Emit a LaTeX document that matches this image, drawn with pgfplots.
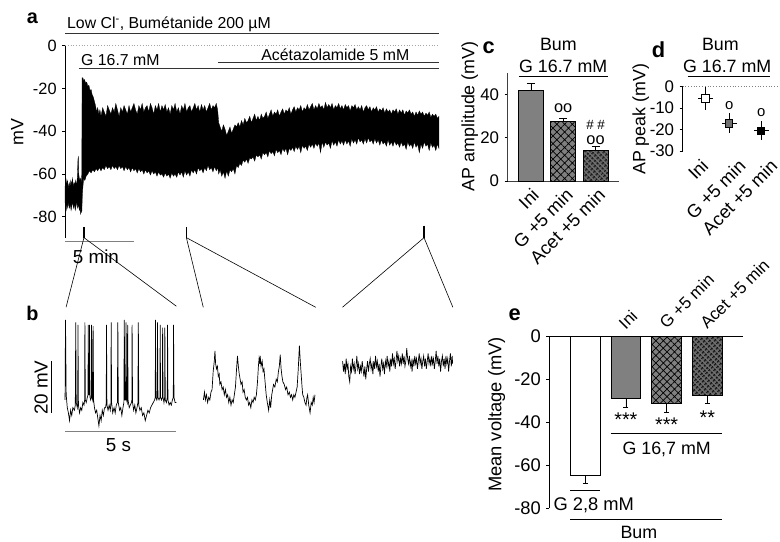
\documentclass[border=0pt]{standalone}
\usepackage{pgfplots}
\pgfplotsset{compat=1.18}
\usepackage{fontspec}
\setmainfont{Liberation Sans}
\usetikzlibrary{patterns.meta}
\definecolor{barg}{HTML}{808080}
\definecolor{mkg}{HTML}{707070}
\newcommand{\fs}[1]{\fontsize{#1}{#1}\selectfont}
\begin{document}
\fs{16}
\begin{tikzpicture}[x=1bp,y=1bp]
\useasboundingbox (0bp,0bp) rectangle (780bp,545bp);
% ---------------- panel a ----------------
\begin{axis}[at={(61bp,305.5bp)}, anchor=south west, scale only axis,
  width=376bp, height=193.5bp, xmin=0, xmax=27.25, ymin=-90, ymax=0,
  axis x line=none, axis y line*=left, axis line style={-, line width=0.8bp},
  ytick={-80,-60,-40,-20,0}, yticklabels={-80,-60,-40,-20,0},
  tick align=outside, major tick length=3bp, tick style={line width=0.8bp, black},
  tick label style={font=\fs{16.5}}, clip=false]
\addplot[fill=black, draw=black, line width=0.3bp] coordinates {
(0,-66) (0.06,-62) (0.12,-65) (0.18,-63) (0.24,-67) (0.3,-64) (0.36,-66) (0.42,-63) (0.48,-65) (0.54,-62) (0.6,-66) (0.66,-64) (0.72,-65) (0.78,-63) (0.84,-66) (0.9,-61) (0.94,-53) (0.97,-52) (1.0,-60) (1.06,-63) (1.12,-62) (1.18,-64) (1.22,-60) (1.24,-15)
(1.3,-15) (1.36,-16.5) (1.42,-15.8) (1.5,-17.5) (1.58,-17) (1.66,-19) (1.74,-18.5) (1.82,-21) (1.9,-20.5) (1.98,-23) (2.06,-24) (2.14,-26) (2.22,-28) (2.3,-31) (2.38,-29) (2.46,-32) (2.54,-30)
(2.62,-33) (2.74,-29) (2.86,-31) (2.98,-33) (3.1,-28) (3.22,-30) (3.34,-32) (3.46,-29) (3.58,-31) (3.7,-27) (3.82,-30) (3.94,-33) (4.06,-29) (4.18,-31) (4.3,-28) (4.42,-30) (4.54,-32) (4.66,-28) (4.78,-31) (4.9,-29) (5.02,-27) (5.14,-30) (5.26,-32) (5.38,-28) (5.5,-30) (5.62,-27) (5.74,-31) (5.86,-29) (5.98,-28) (6.1,-31) (6.22,-27) (6.34,-29) (6.46,-32) (6.58,-28) (6.7,-30) (6.82,-27) (6.94,-31) (7.06,-28) (7.18,-30) (7.3,-27.5) (7.42,-31) (7.54,-29) (7.66,-32) (7.78,-28) (7.9,-30) (8.02,-27) (8.14,-31) (8.26,-29) (8.38,-32) (8.5,-28) (8.62,-30) (8.74,-27) (8.86,-31) (8.98,-29) (9.1,-28) (9.22,-31) (9.34,-29) (9.46,-27) (9.58,-30) (9.7,-28) (9.82,-31) (9.94,-27.5) (10.06,-30) (10.18,-28) (10.3,-31) (10.42,-29) (10.54,-27) (10.66,-30) (10.78,-28) (10.9,-29) (11.02,-27) (11.12,-30) (11.2,-36)
(11.3,-38) (11.42,-40) (11.54,-37) (11.66,-39) (11.78,-42) (11.9,-40) (12.02,-38) (12.14,-41) (12.26,-39) (12.38,-37) (12.5,-38) (12.62,-36) (12.74,-38) (12.86,-35) (12.98,-37) (13.1,-34) (13.22,-36) (13.34,-35) (13.46,-33) (13.58,-36) (13.7,-34) (13.82,-32) (13.94,-35) (14.06,-33) (14.18,-35) (14.3,-32) (14.42,-34) (14.54,-33) (14.66,-31) (14.78,-34) (14.9,-32) (15.02,-30) (15.14,-33) (15.26,-31) (15.38,-32) (15.5,-30) (15.62,-33) (15.74,-31) (15.86,-29.5) (15.98,-32) (16.1,-30) (16.22,-31) (16.34,-29) (16.46,-32) (16.58,-30) (16.7,-28.5) (16.82,-31) (16.94,-29) (17.06,-30) (17.18,-28) (17.3,-31) (17.42,-29) (17.54,-30) (17.66,-27.5) (17.78,-30) (17.9,-28.5) (18.02,-27) (18.14,-30) (18.26,-28) (18.38,-29.5) (18.5,-27) (18.62,-29) (18.74,-28) (18.86,-30) (18.98,-26.5) (19.1,-29) (19.22,-27.5) (19.34,-29) (19.46,-27) (19.58,-30) (19.7,-28) (19.82,-29) (19.94,-27) (20.06,-29.5) (20.18,-28) (20.3,-30) (20.42,-27.5) (20.54,-29) (20.66,-28) (20.78,-30.5) (20.9,-28) (21.02,-29) (21.14,-27.5) (21.26,-30) (21.38,-28.5) (21.5,-30) (21.62,-28) (21.74,-31) (21.86,-29) (21.98,-28) (22.1,-30) (22.22,-28.5) (22.34,-31) (22.46,-29) (22.58,-30) (22.7,-28.5) (22.82,-31) (22.94,-29.5) (23.06,-30.5) (23.18,-29) (23.3,-31.5) (23.42,-29.5) (23.54,-31) (23.66,-30) (23.78,-32) (23.9,-30) (24.02,-31) (24.14,-29.5) (24.26,-32) (24.38,-30) (24.5,-31.5) (24.62,-30) (24.74,-32.5) (24.86,-30.5) (24.98,-31.5) (25.1,-30) (25.22,-32) (25.34,-31) (25.46,-33) (25.58,-31) (25.7,-32.5) (25.82,-30.5) (25.94,-32) (26.06,-31) (26.18,-33) (26.3,-31.5) (26.42,-32.5) (26.54,-31) (26.66,-33.5) (26.78,-32) (26.9,-33) (27.02,-32) (27.14,-34) (27.25,-33)
(27.25,-48) (27.14,-46) (27.02,-49) (26.9,-46.5) (26.78,-47.5) (26.66,-45.5) (26.54,-49) (26.42,-46) (26.3,-47) (26.18,-45) (26.06,-48) (25.94,-46) (25.82,-50) (25.7,-46) (25.58,-47.5) (25.46,-45) (25.34,-48) (25.22,-46) (25.1,-47) (24.98,-45) (24.86,-48.5) (24.74,-46) (24.62,-47) (24.5,-45) (24.38,-47.5) (24.26,-45.5) (24.14,-46.5) (24.02,-44.5) (23.9,-47) (23.78,-45) (23.66,-46.5) (23.54,-44) (23.42,-47) (23.3,-45) (23.18,-46) (23.06,-44) (22.94,-46.5) (22.82,-44) (22.7,-45.5) (22.58,-43.5) (22.46,-46) (22.34,-44) (22.22,-45) (22.1,-43) (21.98,-45.5) (21.86,-43.5) (21.74,-46) (21.62,-44) (21.5,-45) (21.38,-43) (21.26,-46) (21.14,-44) (21.02,-45.5) (20.9,-43.5) (20.78,-47) (20.66,-44.5) (20.54,-46) (20.42,-44) (20.3,-46.5) (20.18,-44.5) (20.06,-46) (19.94,-44) (19.82,-47) (19.7,-45) (19.58,-46.5) (19.46,-44.5) (19.34,-48) (19.22,-45.5) (19.1,-46.5) (18.98,-45) (18.86,-47.5) (18.74,-45) (18.62,-50) (18.5,-45.5) (18.38,-47) (18.26,-45.5) (18.14,-48) (18.02,-46) (17.9,-47.5) (17.78,-46) (17.66,-49) (17.54,-47) (17.42,-48) (17.3,-46.5) (17.18,-50) (17.06,-47) (16.94,-48.5) (16.82,-47) (16.7,-49.5) (16.58,-47.5) (16.46,-49) (16.34,-48) (16.22,-51) (16.1,-48) (15.98,-49.5) (15.86,-48) (15.74,-51) (15.62,-49) (15.5,-50) (15.38,-48.5) (15.26,-51.5) (15.14,-49.5) (15.02,-50.5) (14.9,-49) (14.78,-52) (14.66,-50) (14.54,-51) (14.42,-50) (14.3,-53) (14.18,-51) (14.06,-52) (13.94,-51) (13.82,-54) (13.7,-52) (13.58,-53) (13.46,-52.5) (13.34,-55) (13.22,-53) (13.1,-54.5) (12.98,-53.5) (12.86,-56) (12.74,-55) (12.62,-57) (12.5,-56) (12.38,-60) (12.26,-57.5) (12.14,-59) (12.02,-58) (11.9,-61) (11.78,-58.5) (11.66,-62) (11.54,-59) (11.42,-61) (11.3,-58) (11.2,-60) (11.12,-57) (11.02,-58.5) (10.9,-56.5) (10.78,-59) (10.66,-57) (10.54,-58) (10.42,-56) (10.3,-58.5) (10.18,-57) (10.06,-59.5) (9.94,-57.5) (9.82,-58.5) (9.7,-57) (9.58,-60) (9.46,-58) (9.34,-59.5) (9.22,-58) (9.1,-61) (8.98,-59) (8.86,-60.5) (8.74,-58.5) (8.62,-61.5) (8.5,-59) (8.38,-60.5) (8.26,-59) (8.14,-61.5) (8.02,-60) (7.9,-61) (7.78,-59.5) (7.66,-62) (7.54,-60) (7.42,-61) (7.3,-59.5) (7.18,-61.5) (7.06,-60) (6.94,-60.5) (6.82,-59) (6.7,-61) (6.58,-59) (6.46,-60) (6.34,-58.5) (6.22,-60.5) (6.1,-58.5) (5.98,-59.5) (5.86,-58) (5.74,-60) (5.62,-58) (5.5,-59) (5.38,-57.5) (5.26,-59.5) (5.14,-57.5) (5.02,-58.5) (4.9,-57) (4.78,-59) (4.66,-57) (4.54,-58) (4.42,-56.5) (4.3,-58.5) (4.18,-56.5) (4.06,-57.5) (3.94,-56) (3.82,-58) (3.7,-56.5) (3.58,-57.5) (3.46,-56) (3.34,-58) (3.22,-56.5) (3.1,-57.5) (2.98,-56) (2.86,-58) (2.74,-57) (2.62,-58.5) (2.5,-57) (2.38,-58.5) (2.26,-57.5) (2.14,-59) (2.02,-58) (1.9,-59.5) (1.78,-58.5) (1.66,-60) (1.54,-61) (1.44,-63) (1.36,-62) (1.3,-66) (1.26,-70) (1.22,-78) (1.18,-76) (1.14,-79) (1.1,-76) (1.04,-77) (0.98,-74) (0.92,-76) (0.86,-73) (0.8,-75) (0.74,-77) (0.68,-74) (0.62,-76) (0.56,-73) (0.5,-75) (0.44,-77) (0.38,-74) (0.32,-76) (0.26,-73) (0.2,-76) (0.14,-74) (0.08,-77) (0.02,-75) (0,-73)
} -- cycle;
\draw[gray!70, dotted, line width=0.8bp] (axis cs:0,0) -- (axis cs:27.25,0);
\draw[black!80, line width=0.8bp] (axis cs:0,5.6) -- (axis cs:27.25,5.6);
\node[anchor=west, inner sep=0] at (axis cs:0.14,9.8) {Low Cl\textsuperscript{-}, Bumétanide 200 µM};
\draw[black!80, line width=0.8bp] (axis cs:1.01,-10.7) -- (axis cs:27.25,-10.7);
\node[anchor=west, inner sep=0] at (axis cs:1.16,-6.7) {G 16.7 mM};
\draw[black!80, line width=0.8bp] (axis cs:11.16,-7.9) -- (axis cs:27.25,-7.9);
\node[inner sep=0] at (axis cs:19.7,-4.3) {Acétazolamide 5 mM};
\node[rotate=90, font=\fs{18}] at (axis cs:-3.48,-40.5) {mV};
\node[font=\bfseries\fs{20}] at (axis cs:-2.39,13) {a};
\draw[gray, line width=0.8bp] (axis cs:0,-91.6) -- (axis cs:5,-91.6);
\node[font=\fs{19}] at (axis cs:2.25,-98.5) {5 min};
\draw[line width=1.6bp] (axis cs:1.38,-84.7) -- (axis cs:1.38,-89.8);
\draw[line width=1.6bp] (axis cs:8.84,-84.7) -- (axis cs:8.84,-89.8);
\draw[line width=1.6bp] (axis cs:26.16,-84.2) -- (axis cs:26.16,-89.8);
\end{axis}
% ---------------- panel b ----------------
\begin{axis}[at={(61bp,96bp)}, anchor=south west, scale only axis,
  width=392bp, height=143bp, xmin=0, xmax=17.5, ymin=-75, ymax=-20,
  hide axis, clip=false]
\addplot[black, line width=0.7bp] coordinates {
(0,-57) (0.02,-26) (0.05,-55) (0.1,-60) (0.15,-62) (0.2,-65) (0.25,-61) (0.3,-63) (0.35,-60) (0.42,-61) (0.46,-59) (0.48,-27) (0.5,-58) (0.55,-60) (0.57,-58) (0.58,-28) (0.6,-59) (0.65,-62) (0.7,-60) (0.75,-61) (0.8,-58) (0.85,-59) (0.88,-57) (0.89,-27) (0.91,-57) (0.95,-58) (1.0,-56) (1.03,-55) (1.04,-28) (1.06,-55) (1.09,-55) (1.10,-28) (1.12,-56) (1.15,-57) (1.18,-56) (1.19,-28) (1.21,-56) (1.24,-57) (1.26,-28.5) (1.28,-57) (1.32,-60) (1.37,-62) (1.42,-61) (1.47,-64) (1.52,-67) (1.57,-63) (1.62,-65) (1.67,-61) (1.72,-63) (1.77,-60) (1.82,-60) (1.85,-58) (1.86,-28) (1.88,-59) (1.93,-61) (1.98,-59) (2.03,-61) (2.06,-58) (2.07,-27) (2.09,-58) (2.14,-62) (2.2,-60) (2.25,-62) (2.3,-59) (2.35,-58) (2.37,-27) (2.39,-58) (2.45,-61) (2.5,-60) (2.55,-63) (2.6,-60) (2.64,-58) (2.66,-26) (2.68,-57) (2.72,-57) (2.74,-27) (2.76,-57) (2.79,-58) (2.81,-28) (2.83,-57) (2.88,-60) (2.93,-59) (2.98,-58) (3.0,-57) (3.01,-28) (3.03,-58) (3.08,-61) (3.13,-59) (3.18,-62) (3.23,-60) (3.27,-58) (3.29,-27) (3.31,-59) (3.36,-61) (3.42,-60) (3.48,-63) (3.54,-62) (3.6,-65) (3.66,-63) (3.72,-61) (3.78,-62) (3.84,-60) (3.9,-59) (3.96,-58) (4.02,-57) (4.05,-56) (4.06,-26) (4.08,-56) (4.12,-57) (4.14,-56) (4.15,-27) (4.17,-56) (4.22,-57) (4.26,-56) (4.27,-28) (4.29,-56) (4.33,-57) (4.37,-56) (4.38,-29) (4.40,-56) (4.44,-58) (4.47,-56) (4.48,-29) (4.50,-57) (4.55,-58) (4.59,-56) (4.60,-28) (4.62,-57) (4.67,-59) (4.72,-58) (4.77,-59) (4.82,-57) (4.86,-56) (4.87,-28) (4.89,-56) (4.94,-58) (5.0,-58)
};
\addplot[black, line width=0.7bp] coordinates {
(6.21,-57) (6.26,-54) (6.30,-57) (6.35,-55) (6.40,-58) (6.45,-56) (6.50,-57) (6.55,-54) (6.60,-53) (6.65,-46) (6.70,-42) (6.73,-38) (6.76,-43) (6.80,-45) (6.84,-44) (6.88,-48) (6.92,-47) (6.95,-51) (7.00,-50) (7.05,-53) (7.10,-52) (7.15,-55) (7.20,-53) (7.25,-56) (7.30,-55) (7.35,-58) (7.40,-56) (7.45,-59) (7.50,-57) (7.55,-58) (7.60,-55) (7.65,-52) (7.70,-45) (7.74,-40) (7.78,-44) (7.82,-47) (7.86,-49) (7.90,-51) (7.95,-50) (7.99,-54) (8.04,-53) (8.09,-56) (8.14,-57) (8.19,-56) (8.24,-59) (8.29,-58) (8.34,-60) (8.39,-57) (8.44,-58) (8.49,-56) (8.54,-57) (8.59,-55) (8.64,-50) (8.68,-44) (8.71,-41) (8.74,-43) (8.76,-40) (8.80,-44) (8.85,-42) (8.89,-46) (8.93,-45) (8.98,-50) (9.03,-55) (9.08,-58) (9.14,-61) (9.19,-57) (9.23,-60) (9.28,-55) (9.32,-53) (9.36,-51) (9.42,-52) (9.48,-49) (9.53,-50) (9.58,-46) (9.62,-44) (9.66,-39.5) (9.70,-45) (9.74,-48) (9.78,-50) (9.84,-51) (9.90,-53) (9.95,-52) (10.01,-55) (10.07,-54) (10.12,-56) (10.17,-55) (10.22,-57) (10.27,-55) (10.32,-56) (10.37,-54) (10.42,-52) (10.47,-45) (10.52,-36) (10.56,-42) (10.60,-47) (10.64,-52) (10.67,-55) (10.72,-56) (10.77,-58) (10.82,-59) (10.86,-56) (10.89,-55) (10.94,-59) (11.00,-62) (11.05,-58) (11.10,-59) (11.14,-56) (11.18,-58) (11.22,-55)
};
\addplot[black, line width=0.7bp] coordinates {
(12.46,-42) (12.50,-46) (12.54,-43) (12.58,-47) (12.62,-41) (12.66,-45) (12.70,-43) (12.74,-48) (12.78,-50) (12.82,-44) (12.86,-46) (12.90,-41) (12.94,-45) (12.98,-43) (13.02,-47) (13.06,-44) (13.10,-40) (13.14,-45) (13.18,-43) (13.22,-47) (13.26,-44) (13.30,-46) (13.34,-42) (13.38,-45) (13.42,-48) (13.46,-44) (13.50,-49) (13.54,-45) (13.58,-42) (13.62,-46) (13.66,-43) (13.70,-41) (13.74,-45) (13.78,-43) (13.82,-47) (13.86,-42) (13.90,-45) (13.94,-40) (13.98,-44) (14.02,-42) (14.06,-46) (14.10,-43) (14.14,-48) (14.18,-44) (14.22,-41) (14.26,-45) (14.30,-43) (14.34,-47) (14.38,-42) (14.42,-44) (14.46,-40) (14.50,-44) (14.54,-42) (14.58,-46) (14.62,-41) (14.66,-44) (14.70,-39) (14.74,-43) (14.78,-41) (14.82,-45) (14.86,-42) (14.90,-38) (14.94,-42) (14.98,-40) (15.02,-44) (15.06,-41) (15.10,-43) (15.14,-39) (15.18,-43) (15.22,-40) (15.26,-44) (15.30,-42) (15.34,-37) (15.38,-41) (15.42,-43) (15.46,-40) (15.50,-44) (15.54,-42) (15.58,-46) (15.62,-41) (15.66,-44) (15.70,-40) (15.74,-43) (15.78,-41) (15.82,-45) (15.86,-42) (15.90,-39) (15.94,-43) (15.98,-41) (16.02,-45) (16.06,-42) (16.10,-40) (16.14,-44) (16.18,-41) (16.22,-45) (16.26,-42) (16.30,-39) (16.34,-43) (16.38,-41) (16.42,-44) (16.46,-40) (16.50,-43) (16.54,-41) (16.58,-45) (16.62,-42) (16.66,-38) (16.70,-43) (16.74,-40) (16.78,-44) (16.82,-41) (16.86,-46) (16.90,-42) (16.94,-40) (16.98,-44) (17.02,-41) (17.06,-45) (17.10,-40) (17.14,-43) (17.18,-41) (17.22,-46) (17.26,-42) (17.30,-39) (17.34,-44) (17.38,-40) (17.40,-43)
};
\draw[line width=0.8bp] (axis cs:-0.625,-61.9) -- (axis cs:-0.625,-41.9);
\node[rotate=90, font=\fs{19}] at (axis cs:-1.07,-52.3) {20 mV};
\draw[gray, line width=0.8bp] (axis cs:0,-69.2) -- (axis cs:5,-69.2);
\node[font=\fs{19}] at (axis cs:2.4,-74.4) {5 s};
\node[font=\bfseries\fs{20}] at (axis cs:-1.47,-23.5) {b};
\end{axis}
% connecting lines
\draw[line width=0.6bp] (80bp,306bp) -- (62bp,236bp);
\draw[line width=0.6bp] (80bp,306bp) -- (173bp,237bp);
\draw[line width=0.6bp] (183bp,306bp) -- (200bp,236bp);
\draw[line width=0.6bp] (183bp,306bp) -- (313bp,236bp);
\draw[line width=0.6bp] (422bp,306bp) -- (340bp,236bp);
\draw[line width=0.6bp] (422bp,306bp) -- (451bp,236bp);
% ---------------- panel c ----------------
\begin{axis}[at={(506bp,363bp)}, anchor=south west, scale only axis,
  width=112bp, height=108.75bp, xmin=-0.723, xmax=2.723, ymin=0, ymax=50,
  axis x line*=bottom, axis y line*=left, axis line style={-, line width=0.8bp, black!75},
  ybar, bar width=25bp, bar shift=0pt,
  xtick={-0.05,1,2}, xticklabels={Ini,G +5 min,Acet +5 min},
  x tick label style={rotate=45, anchor=north east, inner sep=1bp, yshift=-2bp, font=\fs{18.5}},
  major x tick style={draw=none},
  ytick={0,20,40}, yticklabels={0,20,40}, y tick label style={font=\fs{17}},
  tick align=outside, major tick length=3bp, tick style={line width=0.8bp, black},
  clip=false]
\addplot[fill=barg, draw=black, line width=0.8bp, error bars/.cd, y dir=plus, y explicit,
  error mark options={rotate=90, mark size=4bp, line width=0.8bp}] coordinates {(0,42) +- (0,3)};
\addplot[fill=barg, draw=black, line width=0.8bp, postaction={pattern={Hatch[angle=45,distance=5.5bp,line width=0.7bp]}},
  error bars/.cd, y dir=plus, y explicit,
  error mark options={rotate=90, mark size=4bp, line width=0.8bp}] coordinates {(1,27.6) +- (0,1.5)};
\addplot[fill=barg!85!black, draw=black, line width=0.8bp, postaction={pattern={Hatch[angle=45,distance=3.6bp,line width=0.7bp]}},
  error bars/.cd, y dir=plus, y explicit,
  error mark options={rotate=90, mark size=4bp, line width=0.8bp}] coordinates {(2,14.2) +- (0,1.8)};
\node[font=\fs{16.5}] at (axis cs:1,33.8) {oo};
\node[font=\fs{13.5}] at (axis cs:2,25.8) {\# \#};
\node[font=\fs{16.5}] at (axis cs:2,18.8) {oo};
\node[font=\fs{18}] at (axis cs:0.85,63) {Bum};
\node[font=\fs{18}] at (axis cs:1.0,53.2) {G 16.7 mM};
\draw[line width=0.8bp] (axis cs:-0.354,48.3) -- (axis cs:2.385,48.3);
\node[font=\bfseries\fs{22}] at (axis cs:-1.31,61.4) {c};
\node[rotate=90, font=\fs{18}] at (axis cs:-1.89,29.9) {AP amplitude (mV)};
\end{axis}
% ---------------- panel d ----------------
\begin{axis}[at={(682bp,393bp)}, anchor=south west, scale only axis,
  width=98bp, height=65bp, xmin=-0.767, xmax=2.5, ymin=-30, ymax=0,
  axis x line*=bottom, x axis line style={draw=none}, axis y line*=left,
  axis line style={-, line width=0.8bp},
  xtick={-0.25,1.0,2.07}, xticklabels={Ini,G +5 min,Acet +5 min},
  x tick label style={rotate=45, anchor=north east, inner sep=1bp, yshift=-3bp, font=\fs{18.5}},
  major x tick style={draw=none},
  ytick={-30,-20,-10,0}, yticklabels={-30,-20,-10,0}, y tick label style={font=\fs{17}},
  tick align=outside, major tick length=3bp, tick style={line width=0.8bp, black},
  clip=false]
\draw[gray, dotted, line width=0.8bp] (axis cs:-0.767,0) -- (axis cs:2.5,0);
\addplot[only marks, mark=square*, mark size=3.6bp, mark options={fill=white, draw=black, line width=0.8bp},
  error bars/.cd, x dir=both, x explicit, y dir=both, y explicit, error mark=none,
  error bar style={line width=0.8bp, black}] coordinates {(0,-5.5) +- (0.25,5.3)};
\addplot[only marks, mark=square*, mark size=3.6bp, mark options={fill=mkg, draw=black, line width=0.8bp},
  error bars/.cd, x dir=both, x explicit, y dir=both, y explicit, error mark=none,
  error bar style={line width=0.8bp, black}] coordinates {(0.8,-17.1) +- (0.25,4.6)};
\addplot[only marks, mark=square*, mark size=3.6bp, mark options={fill=black, draw=black, line width=0.8bp},
  error bars/.cd, x dir=both, x explicit, y dir=both, y explicit, error mark=none,
  error bar style={line width=0.8bp, black}] coordinates {(1.87,-20.6) +- (0.25,4.4)};
\node[font=\fs{15}] at (axis cs:0.8,-8.8) {o};
\node[font=\fs{15}] at (axis cs:1.87,-12) {o};
\node[font=\fs{18}] at (axis cs:0.5,19.4) {Bum};
\node[font=\fs{18}] at (axis cs:0.73,9.5) {G 16.7 mM};
\draw[line width=0.8bp] (axis cs:-0.6,4.6) -- (axis cs:2.17,4.6);
\node[font=\bfseries\fs{22}] at (axis cs:-1.57,17) {d};
\node[rotate=90, font=\fs{18}] at (axis cs:-2.17,-15.2) {AP peak (mV)};
\end{axis}
% ---------------- panel e ----------------
\begin{axis}[at={(548bp,34bp)}, anchor=south west, scale only axis,
  width=195bp, height=173bp, xmin=-0.878, xmax=3.878, ymin=-80, ymax=0,
  axis x line*=top, axis y line*=left, axis line style={-, line width=0.8bp},
  ybar, bar width=30bp, bar shift=0pt,
  xtick={0,1,2,3}, xticklabels={,Ini,G +5 min,Acet +5 min},
  x tick label style={rotate=45, anchor=south west, inner sep=2bp, font=\fs{17}},
  major x tick style={draw=none},
  ytick={-80,-60,-40,-20,0}, yticklabels={-80,-60,-40,-20,0}, y tick label style={font=\fs{18.5}},
  tick align=outside, major tick length=3bp, tick style={line width=0.8bp, black},
  clip=false]
\addplot[fill=white, draw=black, line width=0.8bp, error bars/.cd, y dir=minus, y explicit,
  error mark options={rotate=90, mark size=2.5bp, line width=0.8bp}] coordinates {(0,-64.8) +- (0,3.7)};
\addplot[fill=barg, draw=black, line width=0.8bp, error bars/.cd, y dir=minus, y explicit,
  error mark options={rotate=90, mark size=2.5bp, line width=0.8bp}] coordinates {(1,-29.2) +- (0,4.1)};
\addplot[fill=barg, draw=black, line width=0.8bp, postaction={pattern={Hatch[angle=45,distance=5.3bp,line width=0.7bp]}},
  error bars/.cd, y dir=minus, y explicit,
  error mark options={rotate=90, mark size=2.5bp, line width=0.8bp}] coordinates {(2,-31.5) +- (0,4.1)};
\addplot[fill=barg!85!black, draw=black, line width=0.8bp, postaction={pattern={Hatch[angle=45,distance=3.6bp,line width=0.7bp]}},
  error bars/.cd, y dir=minus, y explicit,
  error mark options={rotate=90, mark size=2.5bp, line width=0.8bp}] coordinates {(3,-27.8) +- (0,3.7)};
\node[font=\fs{20}, anchor=base] at (axis cs:1,-41.9) {***};
\node[font=\fs{20}, anchor=base] at (axis cs:2,-44.6) {***};
\node[font=\fs{20}, anchor=base] at (axis cs:3,-41.0) {**};
\draw[line width=0.8bp] (axis cs:0.634,-45.3) -- (axis cs:3.366,-45.3);
\node[font=\fs{18}] at (axis cs:2,-52.7) {G 16,7 mM};
\draw[line width=0.8bp] (axis cs:-0.366,-71.7) -- (axis cs:0.366,-71.7);
\node[font=\fs{18.5}, anchor=west, inner sep=0] at (axis cs:-0.78,-78.6) {G 2,8 mM};
\draw[line width=0.8bp] (axis cs:-0.366,-85.1) -- (axis cs:3.366,-85.1);
\node[font=\fs{18}] at (axis cs:1.32,-91.1) {Bum};
\node[rotate=90, font=\fs{18.5}] at (axis cs:-2.17,-36.5) {Mean voltage (mV)};
\node[font=\bfseries\fs{22}] at (axis cs:-1.73,9.7) {e};
\end{axis}
\end{tikzpicture}
\end{document}
